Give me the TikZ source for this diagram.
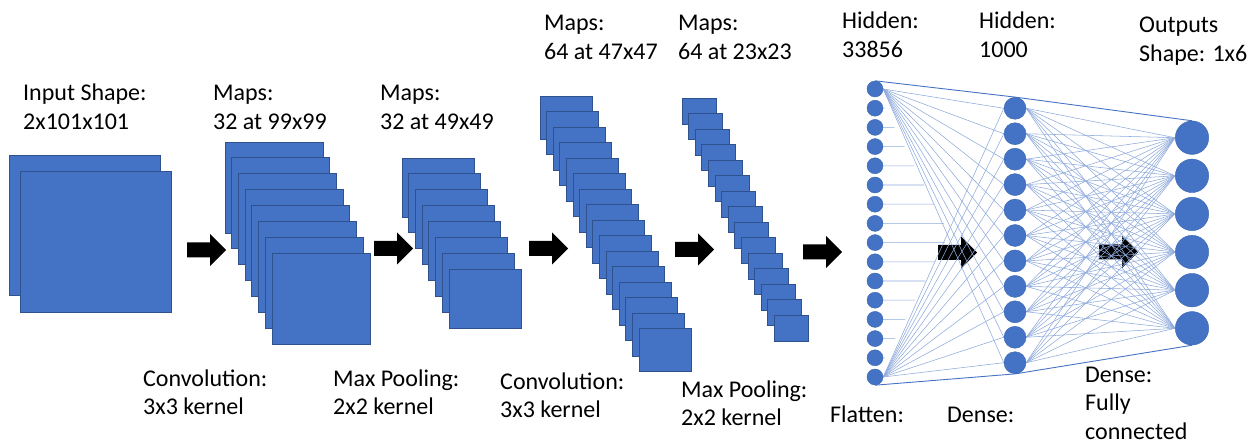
\documentclass[tikz,border=0pt]{standalone}
\usepackage{fontspec}
\setmainfont{Carlito}
\usetikzlibrary{calc,backgrounds}
\definecolor{mapblue}{HTML}{4472C4}
\definecolor{mapedge}{HTML}{2F528F}
\definecolor{wirecol}{HTML}{8FAADC}

\begin{document}
\begin{tikzpicture}[x=1pt,y=-1pt,
  fmap/.style={fill=mapblue,draw=mapedge,line width=0.8pt},
  % anchored at the baseline of the last line
  lbl/.style={anchor=base west,inner sep=0pt,align=left,
    font=\fontsize{24}{28.5}\selectfont},
  unit/.style={circle,fill=mapblue,draw=mapblue!90!black,line width=0.4pt,
    inner sep=0pt,minimum size=#1},
  wire/.style={draw=wirecol,line width=0.55pt},
  rim/.style={draw=mapblue,line width=0.9pt},
  blockarrow/.pic={\fill[black] (0,-7.5) -- (23,-7.5) -- (23,-16) -- (39,0)
    -- (23,16) -- (23,7.5) -- (0,7.5) -- cycle;}
]
\useasboundingbox (0,0) rectangle (1249,443);

% input image: two channels
\draw[fmap] (9.5,155) rectangle ++(151,140);
\draw[fmap] (20,171) rectangle ++(151,141);

% feature-map stacks
\foreach \i in {0,...,7}
  \draw[fmap] ({225+6.7*\i},{142+15.9*\i}) rectangle ++(98,91);
\foreach \i in {0,...,7}
  \draw[fmap] ({402+6.7*\i},{158+15.9*\i}) rectangle ++(72,59);
\foreach \i in {0,...,15}
  \draw[fmap] ({540+6.6*\i},{96+15.5*\i}) rectangle ++(52,43);
\foreach \i in {0,...,14}
  \draw[fmap] ({682+6.6*\i},{98+15.5*\i}) rectangle ++(34,26);

% block arrows between stages
\pic at (187,250) {blockarrow};
\pic at (374,248.5) {blockarrow};
\pic at (529,248.5) {blockarrow};
\pic at (675,249.5) {blockarrow};
\pic at (803,252) {blockarrow};

% layers of the dense part
\foreach \i in {1,...,16}
  \node[unit=16pt] (f\i) at (875,{89+19.2*(\i-1)}) {};
\foreach \i in {1,...,11}
  \node[unit=22pt] (h\i) at (1015,{108.3+25.44*(\i-1)}) {};
\foreach \i in {1,...,6}
  \node[unit=33.5pt] (o\i) at (1192,{137.7+38.12*(\i-1)}) {};

\begin{pgfonlayer}{background}
  \pic at (938,252.5) {blockarrow};
  \pic at (1099,252) {blockarrow};
  % short links of the inner flatten units
  \foreach \i in {2,...,15}
    \coordinate (s\i) at ($(f\i)+(300,0)$);
  \foreach \i in {2,...,8}
    \draw[wire] (f\i) -- (intersection of f1--h11 and f\i--s\i);
  \foreach \i in {9,...,15}
    \draw[wire] (f\i) -- (intersection of f16--h1 and f\i--s\i);
  % fans from the outer flatten units
  \foreach \j in {1,...,11} {
    \draw[wire] (f1.east) -- (h\j.west);
    \draw[wire] (f16.east) -- (h\j.west);
  }
  % fully connected hidden -> output
  \foreach \i in {1,...,11}
    \foreach \j in {1,...,6}
      \draw[wire] (h\i.east) -- (o\j.west);
  % outline of the network
  \draw[rim] (f1.north) -- (h1.north) -- (o1.north);
  \draw[rim] (f16.south) -- (h11.south) -- (o6.south);
\end{pgfonlayer}

% labels
\node[lbl] (inlbl) at (23,129.5) {Input Shape:\\2x101x101};
\node[lbl] (m1lbl) at (213,129.5) {Maps:\\32 at 99x99};
\node[lbl] (m2lbl) at (380,129.5) {Maps:\\32 at 49x49};
\node[lbl] (m3lbl) at (544,59.5) {Maps:\\64 at 47x47};
\node[lbl] (m4lbl) at (678,59.5) {Maps:\\64 at 23x23};
\node[lbl] (hd1lbl) at (842,57.5) {Hidden:\\33856};
\node[lbl] (hd2lbl) at (979,57.5) {Hidden:\\1000};
\node[lbl] (outlbl) at (1139,61.5) {Outputs\\Shape: 1x6};
\node[lbl] (cv1lbl) at (143,414.5) {Convolution:\\3x3 kernel};
\node[lbl] (mp1lbl) at (333,414.5) {Max Pooling:\\2x2 kernel};
\node[lbl] (cv2lbl) at (500,417.5) {Convolution:\\3x3 kernel};
\node[lbl] (mp2lbl) at (681,425.5) {Max Pooling:\\2x2 kernel};
\node[lbl] (fllbl) at (830,422) {Flatten:};
\node[lbl] (dn1lbl) at (947,422) {Dense:};
\node[lbl] (dn2lbl) at (1085,439) {Dense:\\Fully\\connected};
\end{tikzpicture}
\end{document}
